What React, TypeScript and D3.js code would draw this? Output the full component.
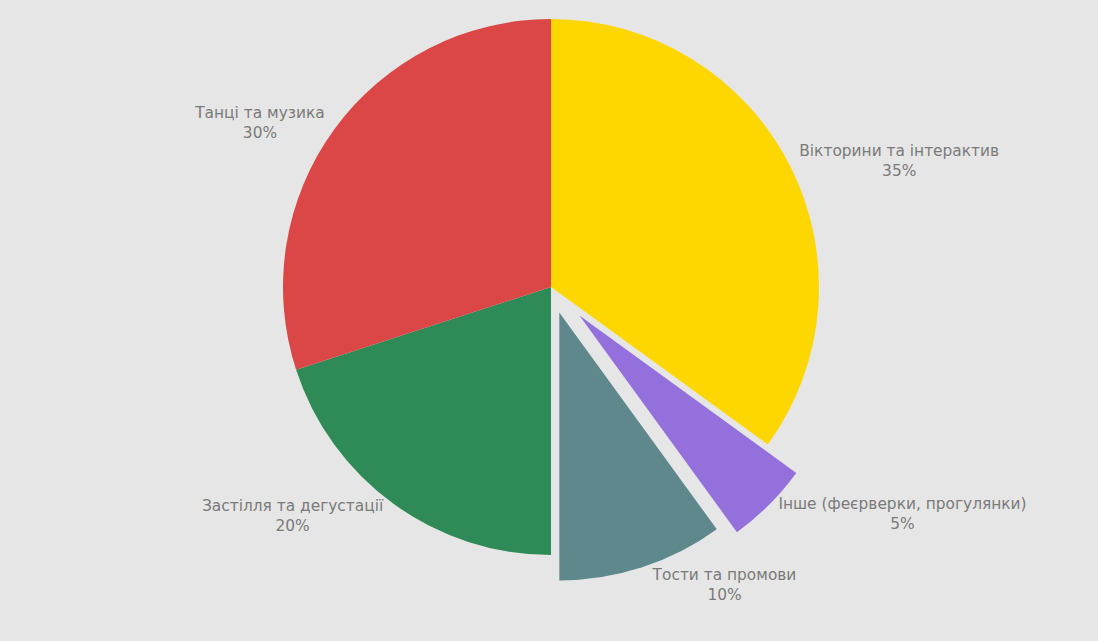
import React, { useEffect, useRef } from "react";
import * as d3 from "d3";

const labels = [
  "Вікторини та інтерактив",
  "Інше (феєрверки, прогулянки)",
  "Тости та промови",
  "Застілля та дегустації",
  "Танці та музика",
];
const values = [35, 5, 10, 20, 30];
const colors = ["#FFD700", "#9370DB", "#5F888C", "#2E8B57", "#DB4646"];
const pulls = [0, 0.15, 0.1, 0, 0];

const W = 1098;
const H = 641;
const CX = 551;
const CY = 287;
const R = 268;

export default function App() {
  const ref = useRef<SVGSVGElement>(null);
  useEffect(() => {
    document.body.style.margin = "0";
    document.body.style.background = "#e6e6e6";
    const svg = d3.select(ref.current);
    svg.selectAll("*").remove();
    svg.append("rect").attr("width", W).attr("height", H).attr("fill", "#e6e6e6");
    const data = values.map((v, i) => ({ v, i }));
    const pie = d3.pie<{ v: number; i: number }>().value((d) => d.v).sort(null);
    const arcs = pie(data);
    const arc = d3.arc<d3.PieArcDatum<{ v: number; i: number }>>().innerRadius(0).outerRadius(R);
    arcs.forEach((a) => {
      const mid = (a.startAngle + a.endAngle) / 2;
      const sx = Math.sin(mid);
      const sy = -Math.cos(mid);
      const p = pulls[a.data.i] * R;
      const cx = CX + sx * p;
      const cy = CY + sy * p;
      svg
        .append("path")
        .attr("d", arc(a) as string)
        .attr("transform", `translate(${cx},${cy})`)
        .attr("fill", colors[a.data.i]);
      const g = svg.append("g");
      const t = g
        .append("text")
        .attr("font-family", "'DejaVu Sans', sans-serif")
        .attr("font-size", 15.4)
        .attr("fill", "#7a7a7a")
        .attr("text-anchor", "middle");
      t.append("tspan").attr("x", 0).attr("dy", 0).text(labels[a.data.i]);
      t.append("tspan").attr("x", 0).attr("dy", 20).text(`${a.data.v}%`);
      const bb = (t.node() as SVGTextElement).getBBox();
      const x = sx * R;
      const y = sy * R;
      let dx = bb.width / 2;
      let dy = bb.height / 2;
      if (x < 0) dx *= -1;
      if (y < 0) dy *= -1;
      const tx = dx + (Math.abs(dy) * (dx > 0 ? 1 : -1)) / 2;
      const ty = dy / (1 + (x * x) / (y * y));
      const ccx = cx + x + tx;
      const ccy = cy + y + ty;
      const bcx = bb.x + bb.width / 2;
      const bcy = bb.y + bb.height / 2;
      g.attr("transform", `translate(${ccx - bcx},${ccy - bcy})`);
    });
  }, []);
  return <svg ref={ref} width={W} height={H} style={{ display: "block" }} />;
}
